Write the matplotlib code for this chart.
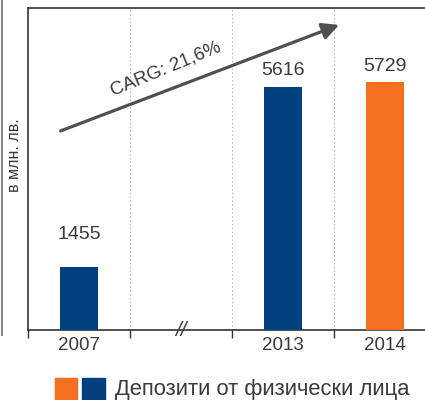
import matplotlib
matplotlib.use("Agg")
import matplotlib.pyplot as plt
from matplotlib.patches import Rectangle
from matplotlib.lines import Line2D

categories = ["2007", "", "2013", "2014"]
values = [1455, None, 5616, 5729]
colors = ["#023f7f", None, "#023f7f", "#f37021"]
ylabel = "в млн. лв."
legend_label = "Депозити от физически лица"
cagr_text = "CARG: 21,6%"

plt.rcParams['font.family'] = ['Liberation Sans', 'DejaVu Sans']
txt = "#3a3a3a"

fig = plt.figure(figsize=(4.25, 4.0), dpi=100)
W, H = 425, 400
ax = fig.add_axes([28 / W, 1 - 330 / H, 408 / W, 322 / H])

for i, (v, c) in enumerate(zip(values, colors)):
    if v is None:
        continue
    ax.bar(i, v, width=0.37, color=c, zorder=3)

label_offsets = [760, None, 370, 370]
for i, v in enumerate(values):
    if v is None:
        continue
    ax.text(i, v + label_offsets[i], str(v), ha="center", va="center",
            fontsize=14, color=txt, zorder=4)

ax.set_xlim(-0.5, 3.5)
ax.set_ylim(0, 7440)
ax.set_yticks([])
ax.set_xticks([0.5, 1.5, 2.5, -0.5])
ax.set_xticklabels([])
ax.tick_params(axis="x", length=6, width=1, color="#333333", direction="out")
for i, lab in enumerate(categories):
    if lab:
        ax.text(i, -0.022, lab, transform=ax.get_xaxis_transform(),
                ha="center", va="top", fontsize=13.5, color=txt)
for x in [0.5, 1.5, 2.5]:
    ax.axvline(x, color="#bbbbbb", linestyle=(0, (1.5, 2)), linewidth=0.8, zorder=1)
for s in ax.spines.values():
    s.set_color("#333333")
    s.set_linewidth(1.2)

# break mark
ax.text(1.0, 0, "//", ha="center", va="center", fontsize=15, color=txt,
        style="italic", zorder=5)

# CAGR arrow
ax.annotate("", xy=(2.55, 7050), xycoords="data",
            xytext=(-0.18, 4600),
            arrowprops=dict(arrowstyle="-|>,head_length=1.0,head_width=0.5",
                            color="#505050", lw=2.3, shrinkA=0, shrinkB=0),
            annotation_clip=False)
ax.text(0.85, (330 - 69) / 322 * 7440, cagr_text, rotation=22.5,
        ha="center", va="center", fontsize=13.5, color=txt,
        rotation_mode="anchor")

# y label
fig.text(15 / W, 1 - 155 / H, ylabel, rotation=90, ha="center", va="center",
         fontsize=11.5, color=txt)

# left grey line
fig.add_artist(Line2D([1.5 / W, 1.5 / W], [1 - 335 / H, 1.0], color="#888888",
                      lw=1.5, transform=fig.transFigure))

# legend
fig.add_artist(Rectangle((55 / W, 1 - 400 / H), 22 / W, 22 / H,
                         color="#f37021", transform=fig.transFigure))
fig.add_artist(Rectangle((82 / W, 1 - 400 / H), 23 / W, 22 / H,
                         color="#023f7f", transform=fig.transFigure))
fig.text(115 / W, 1 - 389 / H, legend_label, ha="left", va="center",
         fontsize=15.8, color=txt)

fig.savefig("out.png", dpi=100)
